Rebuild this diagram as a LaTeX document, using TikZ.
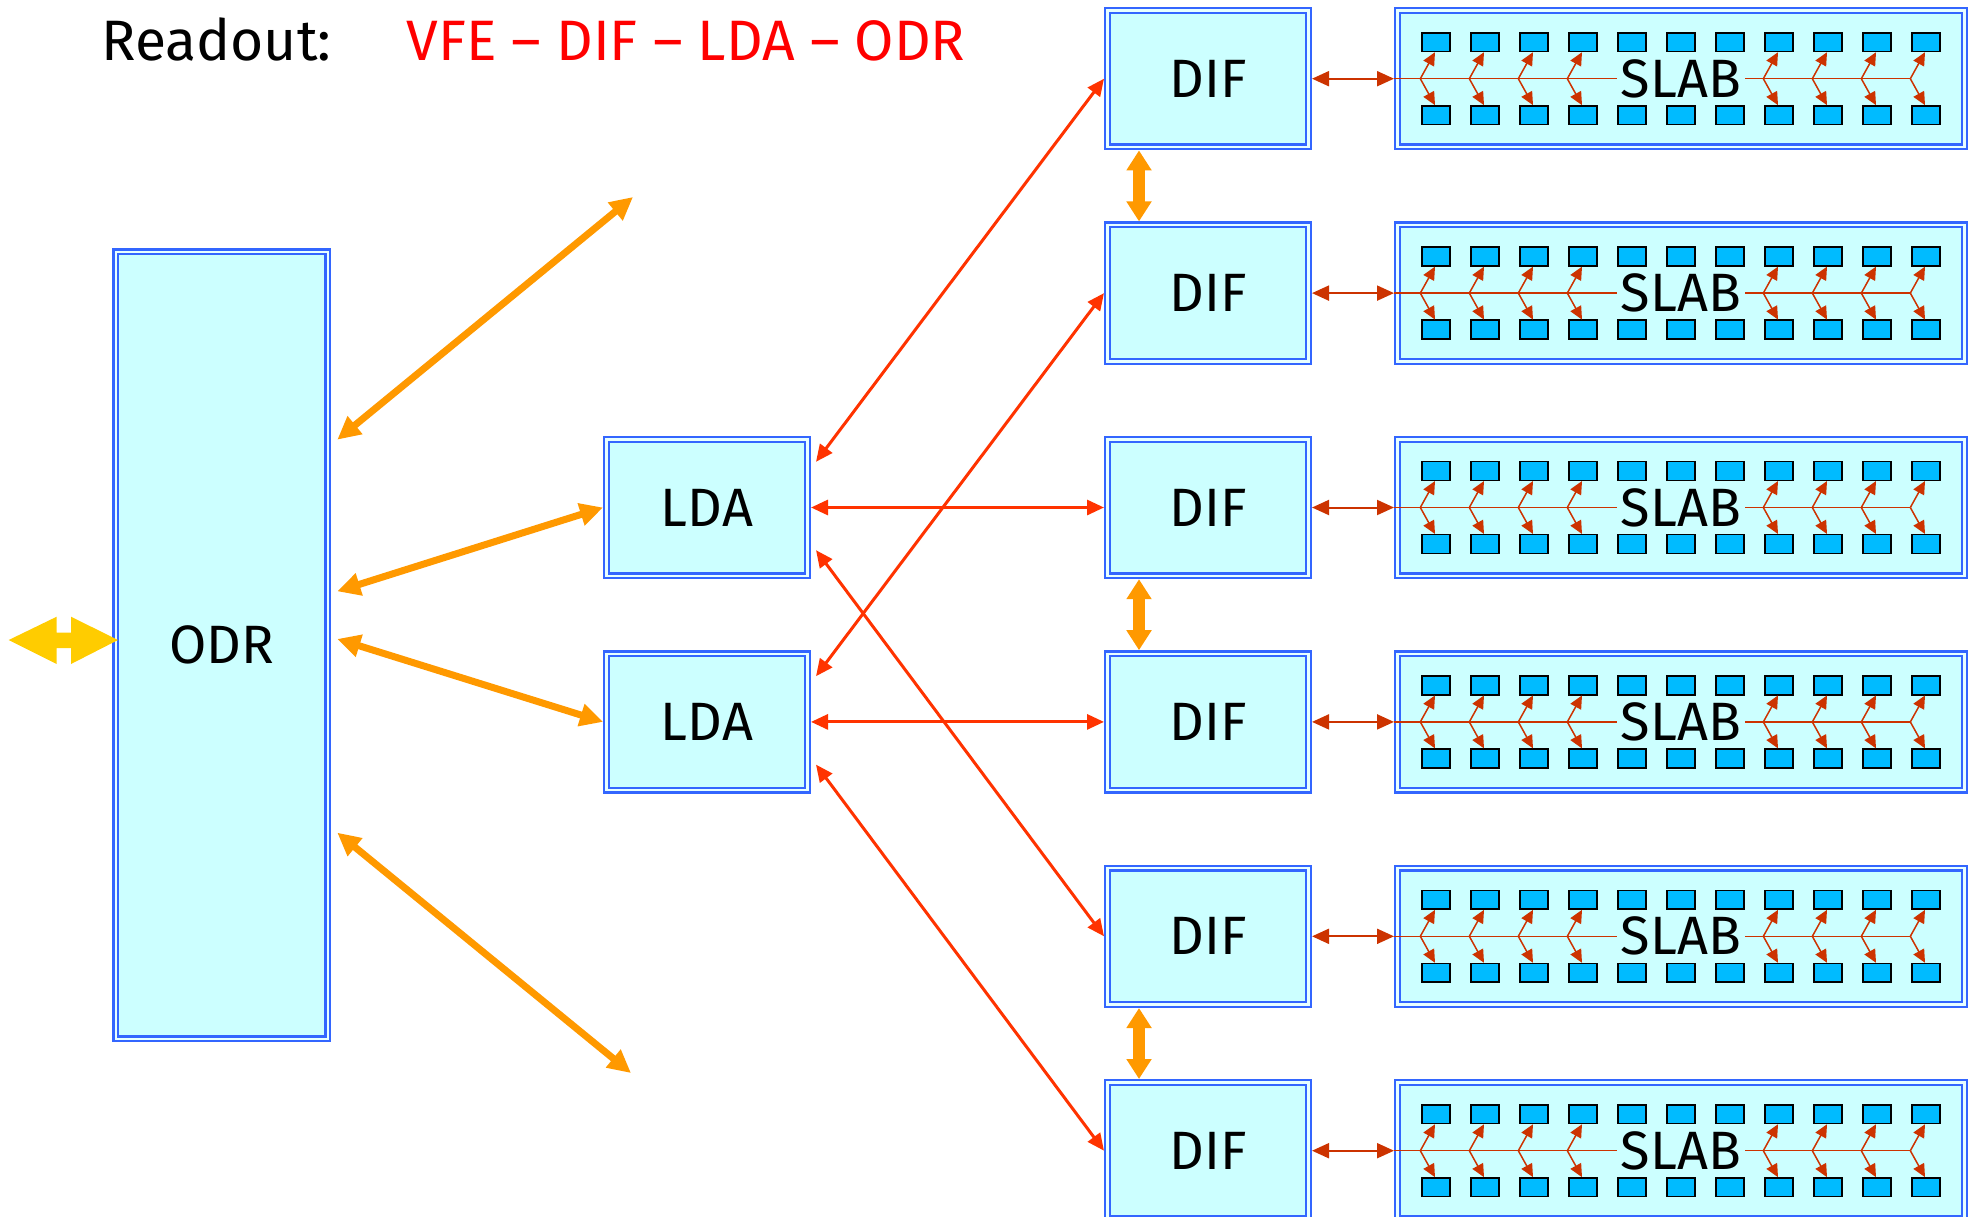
\documentclass[tikz,border=0pt]{standalone}
\usepackage{fontspec}
\setmainfont{Fira Sans}
\usepackage{tikz}
\usetikzlibrary{positioning,arrows.meta,calc}
\definecolor{boxblue}{HTML}{3366FF}
\definecolor{boxfill}{HTML}{CCFFFF}
\definecolor{boxgap}{HTML}{E8FFFF}
\definecolor{chipblue}{HTML}{00BBFF}
\definecolor{linkred}{HTML}{FF3300}
\definecolor{slabred}{HTML}{CC3300}
\definecolor{odrorange}{HTML}{FF9900}
\definecolor{extyellow}{HTML}{FFCC00}
\definecolor{titlered}{HTML}{FF0000}
\tikzset{
  box/.style={rectangle,draw=boxblue,double=boxgap,line width=1.15pt,
    double distance=1.2pt,fill=boxfill,outer sep=1.75pt,inner sep=0pt,
    minimum width=100.5pt,minimum height=68.2pt,font=\fontsize{27}{32}\selectfont},
  slabbox/.style={box,minimum width=283.5pt},
  odrbox/.style={box,minimum width=106pt,minimum height=393.5pt},
  chip/.style={rectangle,draw=black,fill=chipblue,line width=0.8pt,
    inner sep=0pt,minimum width=13.8pt,minimum height=9.4pt},
  lbl/.style={font=\fontsize{27}{32}\selectfont,inner sep=2pt},
  ttl/.style={anchor=base west,font=\fontsize{28.5}{34}\selectfont,inner sep=0pt},
  ar/.style={{Triangle[length=8.5pt,width=7.5pt]}-{Triangle[length=8.5pt,width=7.5pt]},
    line width=1.5pt,draw=linkred},
  sar/.style={ar,line width=1pt,draw=slabred},
  oar/.style={{Triangle[length=11.5pt,width=11pt]}-{Triangle[length=11.5pt,width=11pt]},
    line width=3.5pt,draw=odrorange},
  var/.style={{Triangle[length=10pt,width=12pt]}-{Triangle[length=10pt,width=12pt]},
    line width=6.3pt,draw=odrorange},
  tar/.style={-{Triangle[length=6.5pt,width=6pt]},line width=0.75pt,draw=slabred},
  tline/.style={line width=0.75pt,draw=slabred},
}
\begin{document}
\begin{tikzpicture}[x=0.5pt,y=0.5pt,node distance=35.5pt and 41pt]
  \useasboundingbox (0,0) rectangle (1973,-1216);
  % title
  \node[ttl] (readout) at (101,-60) {Readout:};
  \node[ttl,text=titlered] (chain) at (406,-60) {VFE -- DIF -- LDA -- ODR};
  % DIF column
  \node[box] (dif1) at (1208,-78.7) {DIF};
  \node[box,below=of dif1] (dif2) {DIF};
  \node[box,below=of dif2] (dif3) {DIF};
  \node[box,below=of dif3] (dif4) {DIF};
  \node[box,below=of dif4] (dif5) {DIF};
  \node[box,below=of dif5] (dif6) {DIF};
  % LDA and ODR
  \node[box,left=146.5pt of dif3] (lda1) {LDA};
  \node[box,left=146.5pt of dif4] (lda2) {LDA};
  \node[odrbox] (odr) at (221.8,-645.3) {ODR};
  % slabs
  \foreach \i in {1,...,6}{
    \node[slabbox,right=of dif\i] (slab\i) {};
    \node[lbl] (slablbl\i) at (slab\i) {SLAB};
    \draw[sar] (dif\i.east) -- (slab\i.west);
    \draw[tline] (slab\i.west) -- (slablbl\i.west);
    \coordinate (slabend\i) at ([xshift=5*24.5pt-7.85pt]slab\i.center);
    \draw[tline] (slablbl\i.east) -- (slabend\i);
    \foreach \k in {0,...,10}{
      \node[chip] at ([xshift=(\k-5)*24.5pt,yshift=18.25pt]slab\i.center) {};
      \node[chip] at ([xshift=(\k-5)*24.5pt,yshift=-18.25pt]slab\i.center) {};
    }
    \foreach \k in {0,1,2,3,7,8,9,10}{
      \coordinate (br) at ([xshift=(\k-5)*24.5pt-7.85pt]slab\i.center);
      \draw[tar] (br) -- ([xshift=(\k-5)*24.5pt-0.5pt,yshift=13.25pt]slab\i.center);
      \draw[tar] (br) -- ([xshift=(\k-5)*24.5pt-0.5pt,yshift=-13.25pt]slab\i.center);
    }
  }
  % DIF to DIF
  \draw[var] ([xshift=17.5pt]dif1.south west) -- ([xshift=17.5pt]dif2.north west);
  \draw[var] ([xshift=17.5pt]dif3.south west) -- ([xshift=17.5pt]dif4.north west);
  \draw[var] ([xshift=17.5pt]dif5.south west) -- ([xshift=17.5pt]dif6.north west);
  % LDA to DIF
  \draw[ar] ([xshift=2.5pt,yshift=-13pt]lda1.north east) -- (dif1.west);
  \draw[ar] (lda1.east) -- (dif3.west);
  \draw[ar] ([xshift=2.5pt,yshift=14.5pt]lda1.south east) -- (dif5.west);
  \draw[ar] ([xshift=2.5pt,yshift=-13pt]lda2.north east) -- (dif2.west);
  \draw[ar] (lda2.east) -- (dif4.west);
  \draw[ar] ([xshift=2.5pt,yshift=14.5pt]lda2.south east) -- (dif6.west);
  % ODR links
  \coordinate (o1) at ($(odr.north east)!0.241!(odr.south east)+(3pt,0)$);
  \coordinate (o2) at ($(odr.north east)!0.432!(odr.south east)+(3pt,0)$);
  \coordinate (o3) at ($(odr.north east)!0.492!(odr.south east)+(3pt,0)$);
  \coordinate (o4) at ($(odr.north east)!0.736!(odr.south east)+(3pt,0)$);
  \coordinate (farup) at (633,-197);
  \coordinate (fardn) at (631,-1073);
  \draw[oar] (o1) -- (farup);
  \draw[oar] (o2) -- (lda1.west);
  \draw[oar] (o3) -- (lda2.west);
  \draw[oar] (o4) -- (fardn);
  % external link
  \fill[extyellow] (118,-640) -- (71,-616.7) -- (71,-632.7) -- (56.7,-632.7)
    -- (56.7,-616.7) -- (8.7,-640) -- (56.7,-664) -- (56.7,-648)
    -- (71,-648) -- (71,-664) -- cycle;
\end{tikzpicture}
\end{document}
